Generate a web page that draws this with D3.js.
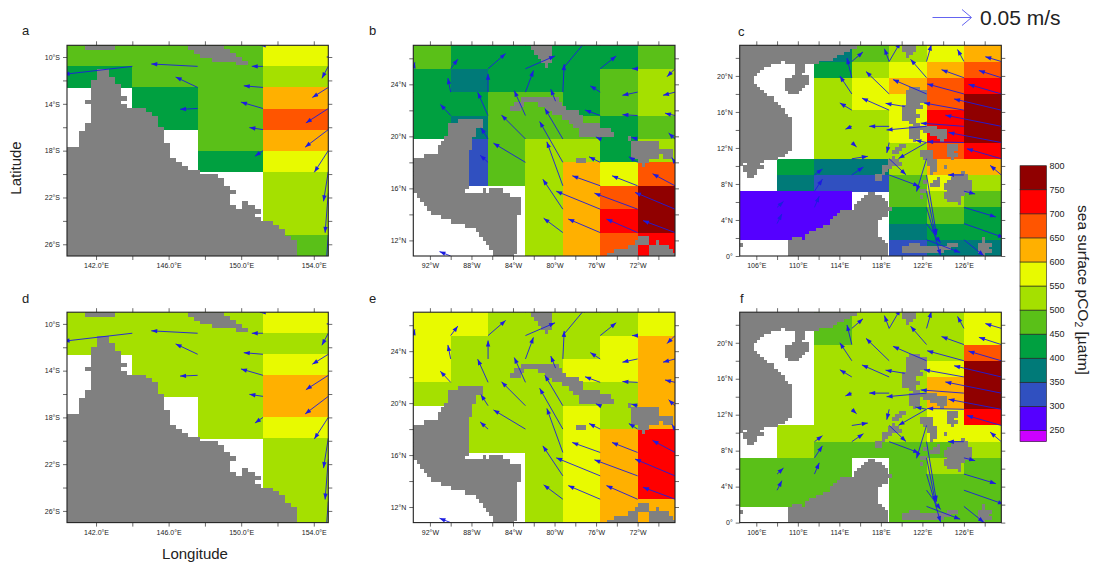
<!DOCTYPE html>
<html>
<head>
<meta charset="utf-8">
<script src="https://cdn.jsdelivr.net/npm/d3@7"></script>
<style>
  html, body { margin: 0; padding: 0; background: #fff; }
  text { font-family: "Liberation Sans", Arial, sans-serif; fill: #222; }
</style>
</head>
<body>
<svg id="canvas"></svg>
<script>
const svg = d3.select("#canvas").attr("width", 1093).attr("height", 564);

// colour classes of pCO2 (uatm)
const levels = [250, 300, 350, 400, 450, 500, 550, 600, 650, 700, 750];
const classColors = ["#cc00ff", "#5500ff", "#3050c0", "#007a78", "#00a040", "#5ac018",
  "#a5e000", "#e8fa00", "#ffb000", "#ff5500", "#ff0000", "#900000"];
const barLabels = [250, 300, 350, 400, 450, 500, 550, 600, 650, 700, 750, 800];

// pCO2 cells, rows north to south, 3.6 x 1.8 degree boxes
const cellsA = [
  [475, 475, 475, 575],
  [425, 475, 475, 525],
  [null, 425, 475, 625],
  [null, 425, 475, 675],
  [null, null, 475, 625],
  [null, null, 425, 575],
  [null, null, null, 525],
  [null, null, null, 525],
  [null, null, null, 525],
  [null, null, null, 475]
];
const cellsD = [
  [525, 525, 525, 575],
  [525, 525, 525, 525],
  [null, 525, 525, 575],
  [null, 525, 525, 625],
  [null, null, 525, 625],
  [null, null, 525, 575],
  [null, null, null, 525],
  [null, null, null, 525],
  [null, null, null, 525],
  [null, null, null, 525]
];
const cellsB = [
  [475, 425, 425, 425, 425, 425, 475],
  [425, 375, 425, 425, 425, 475, 525],
  [425, 425, 475, 475, 425, 475, 525],
  [425, 375, 475, 475, 475, 425, 475],
  [null, 325, 475, 525, 525, 425, 525],
  [null, 325, 475, 525, 625, 575, 675],
  [null, null, null, 525, 625, 675, 775],
  [null, null, null, 525, 625, 725, 775],
  [null, null, null, 525, 625, 675, 725]
];
const cellsE = [
  [575, 575, 525, 525, 525, 525, 575],
  [575, 525, 525, 525, 525, 575, 625],
  [575, 525, 525, 525, 575, 575, 625],
  [525, 525, 525, 525, 525, 525, 625],
  [null, 525, 525, 525, 575, 525, 625],
  [null, 525, 525, 525, 575, 625, 725],
  [null, null, null, 525, 575, 625, 725],
  [null, null, null, 525, 575, 625, 725],
  [null, null, null, 525, 575, 625, 625]
];
const cellsC = [
  [null, null, 375, 475, 525, 575, 625],
  [null, null, 425, 525, 575, 625, 675],
  [null, null, 525, 575, 625, 675, 725],
  [null, null, 525, 575, 575, 675, 775],
  [null, null, 525, 525, 575, 725, 775],
  [null, null, 525, 525, 575, 725, 775],
  [null, null, 525, 525, 525, 675, 725],
  [null, 425, 375, 375, 525, 625, 625],
  [null, 375, 325, 325, 475, 575, 525],
  [275, 275, 275, null, 475, 525, 475],
  [275, 275, 275, null, 425, 475, 425],
  [275, 275, 275, null, 375, 425, 425],
  [null, null, null, null, 325, 375, 375]
];
const cellsF = [
  [null, null, 475, 525, 525, 525, 575],
  [null, null, 475, 525, 525, 525, 575],
  [null, null, 525, 525, 525, 525, 675],
  [null, null, 525, 525, 525, 575, 775],
  [null, null, 525, 525, 525, 625, 775],
  [null, null, 525, 525, 525, 625, 775],
  [null, null, 525, 525, 525, 575, 725],
  [null, 525, 525, 525, 525, 575, 575],
  [null, 525, 475, 475, 475, 475, 525],
  [475, 475, 475, null, 475, 525, 475],
  [475, 475, 475, null, 475, 475, 475],
  [475, 475, 475, null, 475, 475, 475],
  [null, null, null, null, 475, 475, 475]
];

// land mask: [row, from, to, from, to ...], in 1/3 degree boxes from the NW corner
const landCoral = [
  [0, 3, 7, 20, 25], [1, 21, 26], [2, 22, 27], [3, 24, 28], [4, 28, 29],
  [6, 5, 6], [7, 5, 6], [8, 5, 7], [9, 4, 7], [10, 4, 8], [11, 4, 8], [12, 4, 8], [13, 4, 9],
  [14, 3, 8], [15, 4, 9], [16, 4, 12], [17, 4, 13], [18, 4, 14], [19, 4, 14], [20, 3, 14],
  [21, 3, 15], [22, 2, 15], [23, 2, 15], [24, 2, 15], [25, 2, 16], [26, 0, 16], [27, 0, 16],
  [28, 0, 16], [29, 0, 17], [30, 0, 18], [31, 0, 19], [32, 0, 21], [33, 0, 24], [34, 0, 25],
  [35, 0, 25], [36, 0, 26], [37, 0, 27], [38, 0, 26], [39, 0, 26], [40, 0, 26, 29, 29],
  [41, 0, 27, 29, 30], [42, 0, 31], [43, 0, 30], [44, 0, 31], [45, 0, 33], [46, 0, 34],
  [47, 0, 35], [48, 0, 35], [49, 0, 36], [50, 0, 37], [51, 0, 37], [52, 0, 37], [53, 0, 37]
];
const landCaribbean = [
  [0, 34, 39], [1, 35, 39], [2, 36, 39], [3, 37, 39], [4, 38, 38],
  [12, 31, 41], [13, 29, 31, 36, 42], [14, 28, 30, 38, 43], [15, 40, 47], [16, 43, 48],
  [17, 13, 19, 45, 48], [18, 10, 19, 46, 53], [19, 10, 17, 48, 56], [20, 10, 17, 48, 57],
  [21, 9, 16, 62, 62], [22, 8, 16, 63, 70], [23, 7, 16, 63, 70], [24, 7, 15, 63, 74],
  [25, 3, 15, 63, 70, 72, 74], [26, 0, 15, 47, 49, 65, 67], [27, 0, 15, 66, 66],
  [28, 0, 15], [29, 0, 15], [30, 0, 15], [31, 0, 15], [32, 0, 15],
  [33, 0, 14, 20, 20, 22, 25], [34, 1, 27], [35, 2, 30], [36, 3, 30], [37, 4, 30], [38, 5, 30],
  [39, 8, 29], [40, 11, 29], [41, 15, 29], [42, 18, 29], [43, 19, 29],
  [44, 20, 29, 65, 67], [45, 21, 29, 64, 67, 70, 70], [46, 22, 29, 62, 64, 68, 73],
  [47, 23, 29, 58, 64, 68, 74], [48, 23, 28, 56, 64, 68, 75]
];
const landScs = [
  [0, 0, 33, 47, 50], [1, 0, 31, 47, 50], [2, 0, 29, 48, 49], [3, 0, 27, 48, 48], [4, 0, 26],
  [5, 0, 11, 13, 22], [6, 0, 8, 16, 18], [7, 0, 6, 16, 18], [8, 0, 5, 16, 18], [9, 0, 4, 16, 17],
  [10, 0, 3, 15, 19], [11, 0, 3, 13, 19], [12, 0, 3, 13, 19], [13, 0, 4, 13, 18],
  [14, 0, 5, 13, 17, 49, 51], [15, 0, 6, 14, 16, 48, 53], [16, 0, 7, 48, 53], [17, 0, 9, 48, 53],
  [18, 0, 9, 48, 53], [19, 0, 10, 48, 51], [20, 0, 11, 47, 52], [21, 0, 12, 47, 50],
  [22, 0, 12, 47, 50], [23, 0, 13, 47, 51], [24, 0, 14, 47, 50], [25, 0, 14, 49, 50],
  [26, 0, 14, 50, 51], [27, 0, 14, 49, 52, 53, 56], [28, 0, 14, 49, 51, 53, 59],
  [29, 0, 14, 49, 51, 55, 59], [30, 0, 14, 49, 51, 57, 59], [31, 0, 14, 50, 50, 58, 58],
  [32, 0, 14], [33, 0, 14, 46, 47, 60, 62], [34, 0, 14, 45, 46, 60, 62],
  [35, 0, 13, 44, 45, 52, 55, 60, 61], [36, 0, 12, 52, 55, 60, 62], [37, 0, 10, 44, 44, 53, 55, 61, 61],
  [38, 0, 6, 43, 45, 54, 56], [39, 0, 0, 2, 5, 43, 46, 54, 56], [40, 1, 6, 41, 43, 55, 56, 59, 59],
  [41, 1, 4, 41, 42, 55, 56], [42, 2, 4, 41, 41, 55, 55, 64, 64], [43, 2, 3, 39, 40, 62, 65],
  [44, 39, 40, 57, 57, 61, 65], [45, 53, 53, 56, 57, 60, 66], [46, 55, 57, 59, 66], [47, 59, 66],
  [48, 52, 53, 60, 66], [49, 37, 38, 59, 64], [50, 36, 40, 52, 52, 59, 63], [51, 35, 41, 60, 63],
  [52, 34, 42, 63, 63], [53, 33, 42], [54, 33, 43], [55, 29, 42], [56, 28, 42], [57, 27, 40],
  [58, 26, 39], [59, 26, 39], [60, 24, 39], [61, 22, 39], [62, 20, 39], [63, 19, 39],
  [64, 15, 17, 19, 40, 70, 70], [65, 14, 41, 70, 70], [66, 0, 0, 14, 42, 49, 51, 60, 62, 69, 72],
  [67, 14, 42, 47, 60, 69, 71], [68, 14, 42, 47, 58, 69, 72], [69, 14, 42, 70, 70]
];

// currents: [lon, lat, u, v], u and v in cm/s
const arrowsCoral = [
  [144, -10.8, -8.6, -1], [147.6, -10.8, -5.8, 0.3], [147.6, -12.6, -2.75, 1.3], [147.6, -14.4, -2.2, -0.1],
  [151.2, -9, -0.4, 0], [151.2, -10.8, -1.4, 0], [151.2, -12.6, -2.4, 0.2], [151.2, -14.4, -2.75, 0.8],
  [151.2, -16.2, -1.7, 0.25], [151.2, -18, -1, -0.7], [154.8, -10, -0.2, 0], [154.8, -10.8, -0.8, -1.5],
  [154.8, -12.6, -2, -1.25], [154.8, -14.4, -2.8, -1.8], [154.8, -16.2, -2.9, -2.2], [154.8, -18, -1.75, -2.7],
  [154.8, -19.8, -0.6, -3.7], [154.8, -21.6, -0.4, -5], [154.8, -25.2, -0.3, -4]
];
const arrowsCaribbean = [
  [-93.6, 25.2, 0.2, 0.8], [-90, 25.2, 0.9, 1.2], [-86.4, 25.2, 2.2, 1.9], [-82.8, 25.2, 3.7, 1.6],
  [-79.2, 25.2, 3, 3.6], [-75.6, 25.2, 2, 1.6], [-72, 25.2, -0.7, 0], [-68.4, 25.2, -1, -1],
  [-90, 23.4, -0.35, 1.75], [-86.4, 23.4, 0, 2.3], [-82.8, 23.4, 1, 2.7], [-79.2, 23.4, 0.17, 3.5],
  [-75.6, 23.4, -1.25, 0.8], [-72, 23.4, -1.9, -0.4], [-68.4, 23.4, -1.5, -0.4],
  [-90, 21.6, -1.3, 1.4], [-86.4, 21.6, -1.3, 2.9], [-82.8, 21.6, -1.4, 3.1], [-79.9, 22.7, -0.6, 1.5],
  [-75.6, 21.6, -1.9, 0.7], [-72, 21.6, -1.9, 0.1], [-68.4, 21.6, -1.25, 0.3],
  [-86.4, 19.8, -0.9, 1.4], [-82.8, 19.8, -3, 3], [-79.2, 19.8, -2.25, 3.8], [-75.6, 19.8, -0.55, 0.25],
  [-72, 19.8, -0.8, 0.2], [-68.4, 19.8, -0.8, 0.75],
  [-86.4, 18, -1, 0.9], [-82.8, 18, -4, 2.4], [-79.2, 18, -2.9, 5.1], [-75.6, 18, -1.4, 0.7],
  [-72, 18, -1.1, 0.7], [-68.4, 18, -0.4, 0.6],
  [-79.2, 16.2, -2, 5.5], [-75.6, 16.2, -3.5, 1.25], [-72, 16.2, -3.2, 1.25], [-68.4, 16.2, -2.8, 1.5],
  [-79.2, 14.4, -2.5, 3.75], [-75.6, 14.4, -5.5, 2.25], [-72, 14.4, -5.4, 2], [-68.4, 14.4, -5, 2.1],
  [-79.2, 12.6, -2.4, 1.8], [-75.6, 12.6, -4, 1.7], [-72, 12.6, -3.9, 1.7], [-68.4, 12.6, -4, 1.5],
  [-90, 10.8, -1.4, 0.55]
];
const arrowsScs = [
  [115.2, 21.6, 1.4, 1.2], [115.2, 19.8, -0.6, 2.45], [118.8, 21.6, -0.6, 1.6], [118.8, 21.6, 1.4, 2.4],
  [122.4, 21.6, 0.6, 2.1], [126, 21.6, -0.8, 1.5], [129.6, 21.6, -2, 0.6],
  [122.4, 19.8, -2, 2.3], [126, 19.8, -2.8, 1], [129.6, 19.8, -2.8, 0.9],
  [115.2, 18, -1.5, 2.25], [118.8, 18, -2.9, 2.8], [122.4, 18, -4.2, 1.8], [126, 18, -4.6, 1.25], [129.6, 18, -4.1, 1.2],
  [115.2, 16.2, -1.5, 0.9], [118.8, 16.2, -3.4, 1.5], [120.3, 16.6, -2.4, 0.4], [126, 16.2, -5, 0.9], [129.6, 16.2, -5.9, 1.4],
  [115.2, 14.4, -0.8, -0.35], [118.8, 14.4, -2.5, 0], [122.4, 14.4, -5, -0.45], [126, 14.4, -5.4, 0.4], [129.6, 14.4, -7, 1.4],
  [115.2, 12.6, 0.6, -0.55], [118.8, 12.6, -0.3, -1.3], [122.4, 12.6, -1.4, 0.3], [122.4, 12.6, -3.5, -2],
  [126, 12.6, -4.6, 0.1], [129.6, 12.6, -6.6, 1.25],
  [115.2, 10.8, 2, 0.3], [118.8, 10.8, 2.1, -2], [122.4, 10.8, -1.25, -4.1], [129.6, 10.8, -4.3, 1.25],
  [111.6, 9, 1, 0.75], [115.2, 9, 1.45, 1], [118.8, 9, 3.75, -1.4], [122.4, 9, 1.25, -7.5], [126, 9, -2, 0], [129.6, 9, -1.4, 1.2],
  [111.6, 7.2, 1, 1.5], [122.4, 7.2, 1.1, -5.5], [126, 7.2, 1.4, -0.35],
  [108, 5.4, 0.8, 0.75], [111.6, 5.4, 0.6, 1.4], [122.4, 5.4, 1.75, -6], [126, 5.4, 4, -1.2],
  [108, 3.6, 0.6, 1.2], [122.4, 3.6, 1.75, -2.4], [126, 3.6, 5, -1.75],
  [122.4, 1.8, 4.2, -1.6], [126, 1.8, 2.5, -2]
];

// axis ticks
const lonMajorCoral = [142, 146, 150, 154];
const lonMinorCoral = [144, 148, 152];
const latMajorCoral = [-10, -14, -18, -22, -26];
const latMinorCoral = [-12, -16, -20, -24];
const lonMajorCaribbean = [-92, -88, -84, -80, -76, -72];
const lonMinorCaribbean = [-90, -86, -82, -78, -74, -70];
const latMajorCaribbean = [12, 16, 20, 24];
const latMinorCaribbean = [14, 18, 22, 26];
const lonMajorScs = [106, 110, 114, 118, 122, 126];
const lonMinorScs = [108, 112, 116, 120, 124, 128];
const latMajorScs = [0, 4, 8, 12, 16, 20];
const latMinorScs = [2, 6, 10, 14, 18, 22];

const LAND = "#808080";
const ARROW = "#1c1ce0";
const pxPerCm = 8; // reference arrow: 0.05 m/s is 40 px

const color = d3.scaleThreshold().domain(levels).range(classColors);

const fmtLonE1 = d => d.toFixed(1) + "°E";
const fmtLonE = d => d + "°E";
const fmtLonW = d => Math.abs(d) + "°W";
const fmtLatS = d => Math.abs(d) + "°S";
const fmtLatN = d => d === 0 ? "0°" : d + "°N";

const coral = {
  lon0: 140.4, lon1: 154.8, lat0: -9, lat1: -27, land: landCoral, arrows: arrowsCoral,
  lonMajor: lonMajorCoral, lonMinor: lonMinorCoral, latMajor: latMajorCoral, latMinor: latMinorCoral,
  fmtLon: fmtLonE1, fmtLat: fmtLatS, left: 67, right: 328.3
};
const caribbean = {
  lon0: -93.6, lon1: -68.4, lat0: 27, lat1: 10.8, land: landCaribbean, arrows: arrowsCaribbean,
  lonMajor: lonMajorCaribbean, lonMinor: lonMinorCaribbean, latMajor: latMajorCaribbean, latMinor: latMinorCaribbean,
  fmtLon: fmtLonW, fmtLat: fmtLatN, left: 413.3, right: 675
};
const scs = {
  lon0: 104.4, lon1: 129.6, lat0: 23.4, lat1: 0, land: landScs, arrows: arrowsScs,
  lonMajor: lonMajorScs, lonMinor: lonMinorScs, latMajor: latMajorScs, latMinor: latMinorScs,
  fmtLon: fmtLonE, fmtLat: fmtLatN, left: 739.7, right: 1001.3
};

const panels = [
  { name: "a", cells: cellsA, region: coral, top: 45.3, bottom: 256, nameX: 22, nameY: 35 },
  { name: "b", cells: cellsB, region: caribbean, top: 45.3, bottom: 256, nameX: 369, nameY: 35 },
  { name: "c", cells: cellsC, region: scs, top: 45.3, bottom: 256, nameX: 738, nameY: 36 },
  { name: "d", cells: cellsD, region: coral, top: 312.2, bottom: 522.6, nameX: 22, nameY: 303 },
  { name: "e", cells: cellsE, region: caribbean, top: 312.2, bottom: 522.6, nameX: 369, nameY: 303 },
  { name: "f", cells: cellsF, region: scs, top: 312.2, bottom: 522.6, nameX: 740, nameY: 303 }
];

const defs = svg.append("defs");
defs.append("marker")
  .attr("id", "head")
  .attr("markerUnits", "userSpaceOnUse")
  .attr("viewBox", "-6.5 -2.5 7 5")
  .attr("markerWidth", 7).attr("markerHeight", 5)
  .attr("refX", 0).attr("refY", 0)
  .attr("orient", "auto")
  .append("path").attr("d", "M0,0 L-6,-2.2 L-6,2.2 Z").attr("fill", ARROW);

function styleAxis(g, showText) {
  g.select(".domain").remove();
  g.selectAll(".tick line").attr("stroke", "#444").attr("stroke-width", 0.8);
  g.selectAll(".tick text").attr("font-size", 7).attr("fill", "#333");
  if (!showText) g.selectAll(".tick text").remove();
}

function drawPanel(p, i) {
  const r = p.region;
  const x = d3.scaleLinear().domain([r.lon0, r.lon1]).range([r.left, r.right]);
  const y = d3.scaleLinear().domain([r.lat0, r.lat1]).range([p.top, p.bottom]);
  const g = svg.append("g").attr("class", "panel-" + p.name);

  defs.append("clipPath").attr("id", "clip" + i).append("rect")
    .attr("x", r.left).attr("y", p.top)
    .attr("width", r.right - r.left).attr("height", p.bottom - p.top);

  const plot = g.append("g").attr("clip-path", `url(#clip${i})`);

  // pCO2 boxes
  const boxes = p.cells.flatMap((row, ri) => row.map((v, ci) => ({ v, ri, ci }))).filter(d => d.v !== null);
  plot.selectAll("rect.cell").data(boxes).join("rect")
    .attr("class", "cell")
    .attr("x", d => x(r.lon0 + d.ci * 3.6))
    .attr("y", d => y(r.lat0 - d.ri * 1.8))
    .attr("width", x(r.lon0 + 3.6) - x(r.lon0) + 0.5)
    .attr("height", y(r.lat0 - 1.8) - y(r.lat0) + 0.5)
    .attr("shape-rendering", "crispEdges")
    .attr("fill", d => color(d.v));

  // land mask
  const landRuns = r.land.flatMap(row => {
    const runs = [];
    for (let k = 1; k < row.length; k += 2) runs.push({ row: row[0], c0: row[k], c1: row[k + 1] });
    return runs;
  });
  plot.selectAll("rect.land").data(landRuns).join("rect")
    .attr("class", "land")
    .attr("x", d => x(r.lon0 + d.c0 / 3))
    .attr("y", d => y(r.lat0 - d.row / 3))
    .attr("width", d => x(r.lon0 + (d.c1 + 1) / 3) - x(r.lon0 + d.c0 / 3))
    .attr("height", y(r.lat0 - 1 / 3) - y(r.lat0) + 0.6)
    .attr("shape-rendering", "crispEdges")
    .attr("fill", LAND);

  // currents
  plot.selectAll("line.cur").data(r.arrows).join("line")
    .attr("class", "cur")
    .attr("x1", d => x(d[0]))
    .attr("y1", d => y(d[1]))
    .attr("x2", d => x(d[0]) + d[2] * pxPerCm)
    .attr("y2", d => y(d[1]) - d[3] * pxPerCm)
    .attr("stroke", ARROW)
    .attr("stroke-width", 0.9)
    .attr("marker-end", "url(#head)");

  // axes, all four sides
  const tick = 4;
  const major = (axis, vals, fmt) => axis.tickValues(vals).tickFormat(fmt).tickSize(tick).tickSizeOuter(0).tickPadding(3);
  g.append("g").attr("transform", `translate(0,${p.bottom})`)
    .call(major(d3.axisBottom(x), r.lonMajor, r.fmtLon)).call(styleAxis, true);
  g.append("g").attr("transform", `translate(0,${p.bottom})`)
    .call(major(d3.axisBottom(x), r.lonMinor, () => "")).call(styleAxis, false);
  g.append("g").attr("transform", `translate(0,${p.top})`)
    .call(major(d3.axisTop(x), r.lonMajor.concat(r.lonMinor), () => "")).call(styleAxis, false);
  g.append("g").attr("transform", `translate(${r.left},0)`)
    .call(major(d3.axisLeft(y), r.latMajor, r.fmtLat)).call(styleAxis, true);
  g.append("g").attr("transform", `translate(${r.left},0)`)
    .call(major(d3.axisLeft(y), r.latMinor, () => "")).call(styleAxis, false);
  g.append("g").attr("transform", `translate(${r.right},0)`)
    .call(major(d3.axisRight(y), r.latMajor.concat(r.latMinor), () => "")).call(styleAxis, false);

  g.append("rect")
    .attr("x", r.left).attr("y", p.top)
    .attr("width", r.right - r.left).attr("height", p.bottom - p.top)
    .attr("fill", "none").attr("stroke", "#222").attr("stroke-width", 1.1);

  g.append("text").attr("x", p.nameX).attr("y", p.nameY).attr("font-size", 13).text(p.name);
}

panels.forEach(drawPanel);

// axis titles
svg.append("text")
  .attr("transform", "translate(21,168) rotate(-90)")
  .attr("text-anchor", "middle").attr("font-size", 15).attr("fill", "#333")
  .text("Latitude");
svg.append("text")
  .attr("x", 195).attr("y", 558.5)
  .attr("text-anchor", "middle").attr("font-size", 15).attr("fill", "#333")
  .text("Longitude");

// reference vector
svg.append("line")
  .attr("x1", 932.5).attr("x2", 971).attr("y1", 17.5).attr("y2", 17.5)
  .attr("stroke", "#6464f0").attr("stroke-width", 1);
svg.append("path")
  .attr("d", "M962,9.5 L971.5,17.5 L962,25.5")
  .attr("fill", "none").attr("stroke", "#6464f0").attr("stroke-width", 1);
svg.append("text").attr("x", 980).attr("y", 25).attr("font-size", 21).text("0.05 m/s");

// colour bar
const barY = d3.scaleLinear().domain([250, 800]).range([430.4, 165.7]);
const barBins = barLabels.slice(0, -1).map((v, i) => ({ lo: v, hi: barLabels[i + 1], fill: classColors[i + 1] }));
const bar = svg.append("g");
bar.append("rect")
  .attr("x", 1020).attr("width", 26.5)
  .attr("y", barY(250)).attr("height", 441.7 - barY(250))
  .attr("fill", classColors[0]).attr("stroke", "#222").attr("stroke-width", 0.6);
bar.selectAll("rect.bin").data(barBins).join("rect")
  .attr("class", "bin")
  .attr("x", 1020).attr("width", 26.5)
  .attr("y", d => barY(d.hi))
  .attr("height", d => barY(d.lo) - barY(d.hi))
  .attr("fill", d => d.fill)
  .attr("stroke", "#222").attr("stroke-width", 0.6);
bar.selectAll("text").data(barLabels).join("text")
  .attr("x", 1049.5)
  .attr("y", d => barY(d) + 3)
  .attr("font-size", 9)
  .attr("fill", "#333")
  .text(d => d);

const barTitle = svg.append("text")
  .attr("transform", "translate(1078,290) rotate(90)")
  .attr("text-anchor", "middle").attr("font-size", 15.5).attr("fill", "#333");
barTitle.append("tspan").text("sea surface pCO");
barTitle.append("tspan").attr("font-size", 10.5).attr("dy", 3).text("2");
barTitle.append("tspan").attr("dy", -3).text(" [µatm]");
</script>
</body>
</html>
